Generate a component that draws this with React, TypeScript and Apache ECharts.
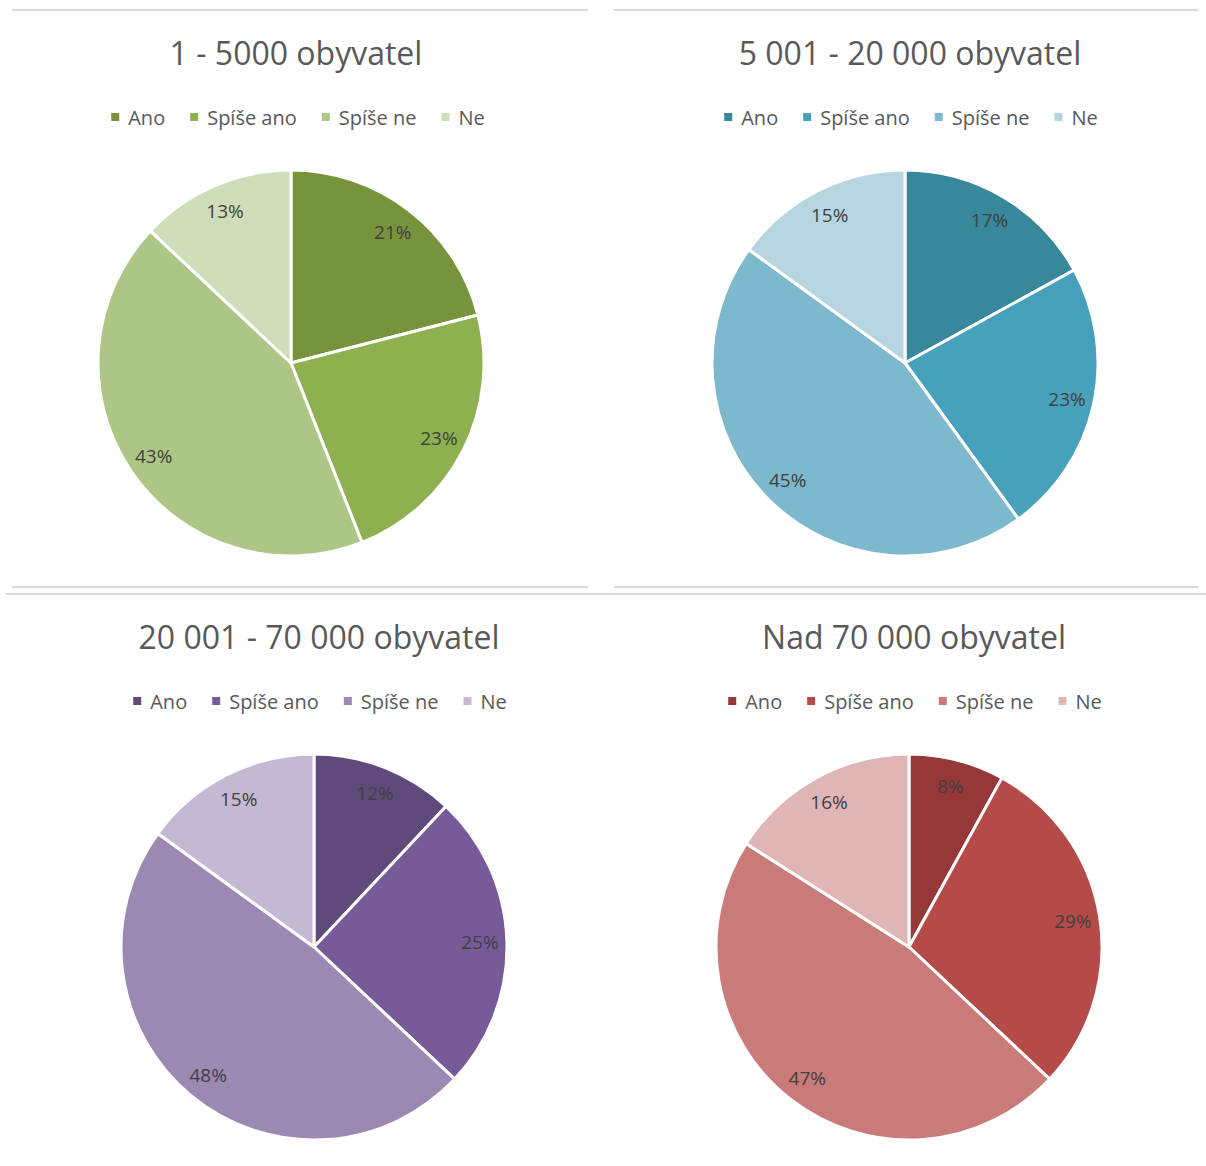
import React, { useEffect, useRef } from "react";
import * as echarts from "echarts";

const categories = ["Ano", "Spíše ano", "Spíše ne", "Ne"];
const titles = [
  "1 - 5000 obyvatel",
  "5 001 - 20 000 obyvatel",
  "20 001 - 70 000 obyvatel",
  "Nad 70 000 obyvatel",
];
const values1 = [21, 23, 43, 13];
const values2 = [17, 23, 45, 15];
const values3 = [12, 25, 48, 15];
const values4 = [8, 29, 47, 16];

const colors1 = ["#77933C", "#8FB051", "#ADC686", "#D0DDBB"];
const colors2 = ["#38879A", "#47A1BA", "#7DB8CD", "#B7D5E0"];
const colors3 = ["#604A7B", "#775B98", "#9B88B3", "#C3B9D2"];
const colors4 = ["#953837", "#B44B49", "#C97B7A", "#DFB6B5"];

const FONT = "'Open Sans', 'Noto Sans', sans-serif";

type PanelProps = {
  title: string;
  values: number[];
  colors: string[];
  left: number;
  top: number;
  cx: number;
  cy: number;
  titleY: number;
  legendY: number;
};

function Panel(p: PanelProps) {
  const ref = useRef<HTMLDivElement>(null);
  useEffect(() => {
    if (!ref.current) return;
    const chart = echarts.init(ref.current, undefined, { renderer: "svg" });
    const data = categories.map((name, i) => ({
      name,
      value: p.values[i],
      itemStyle: { color: p.colors[i] },
    }));
    chart.setOption({
      animation: false,
      title: {
        text: p.title,
        left: p.cx,
        top: p.titleY - 23,
        textAlign: "center",
        textStyle: {
          fontFamily: FONT,
          fontSize: 32,
          fontWeight: "normal",
          color: "#595959",
        },
      },
      legend: {
        data: categories,
        left: "center",
        top: p.legendY - 16,
        icon: "rect",
        itemWidth: 10,
        itemHeight: 10,
        itemGap: 23,
        selectedMode: false,
        textStyle: {
          fontFamily: FONT,
          fontSize: 20,
          color: "#595959",
          padding: [0, 0, 0, 3],
        },
      },
      series: [
        {
          type: "pie",
          center: [p.cx, p.cy],
          radius: [0, 193],
          startAngle: 90,
          clockwise: true,
          silent: true,
          label: { show: false },
          labelLine: { show: false },
          itemStyle: { borderColor: "#ffffff", borderWidth: 3 },
          emphasis: { disabled: true },
          data,
        },
        {
          type: "pie",
          center: [p.cx, p.cy],
          radius: [0, 326],
          startAngle: 90,
          clockwise: true,
          silent: true,
          labelLine: { show: false },
          itemStyle: { color: "rgba(0,0,0,0)", borderWidth: 0 },
          emphasis: { disabled: true },
          label: {
            show: true,
            position: "inside",
            formatter: "{c}%",
            fontFamily: FONT,
            fontSize: 19,
            color: "#404040",
          },
          data: categories.map((name, i) => ({ name, value: p.values[i] })),
        },
      ],
    });
    return () => chart.dispose();
  }, []);
  return (
    <div
      ref={ref}
      style={{
        position: "absolute",
        left: p.left,
        top: p.top,
        width: 600,
        height: 585,
      }}
    />
  );
}

const lineStyle = (left: number, top: number, width: number): React.CSSProperties => ({
  position: "absolute",
  left,
  top,
  width,
  height: 2,
  background: "#DADADA",
});

export default function App() {
  return (
    <div
      style={{
        position: "absolute",
        left: 0,
        top: 0,
        width: 1206,
        height: 1166,
        overflow: "hidden",
        background: "#ffffff",
      }}
    >
      <div style={lineStyle(12, 9, 576)} />
      <div style={lineStyle(614, 9, 584)} />
      <div style={lineStyle(12, 586, 576)} />
      <div style={lineStyle(614, 586, 584)} />
      <div style={lineStyle(6, 593, 1200)} />
      <Panel title={titles[0]} values={values1} colors={colors1} left={-3} top={0} cx={294} cy={363} titleY={54} legendY={118} />
      <Panel title={titles[1]} values={values2} colors={colors2} left={610} top={0} cx={295} cy={363} titleY={54} legendY={118} />
      <Panel title={titles[2]} values={values3} colors={colors3} left={19} top={590} cx={295} cy={357} titleY={48} legendY={112} />
      <Panel title={titles[3]} values={values4} colors={colors4} left={614} top={590} cx={295} cy={357} titleY={48} legendY={112} />
    </div>
  );
}
